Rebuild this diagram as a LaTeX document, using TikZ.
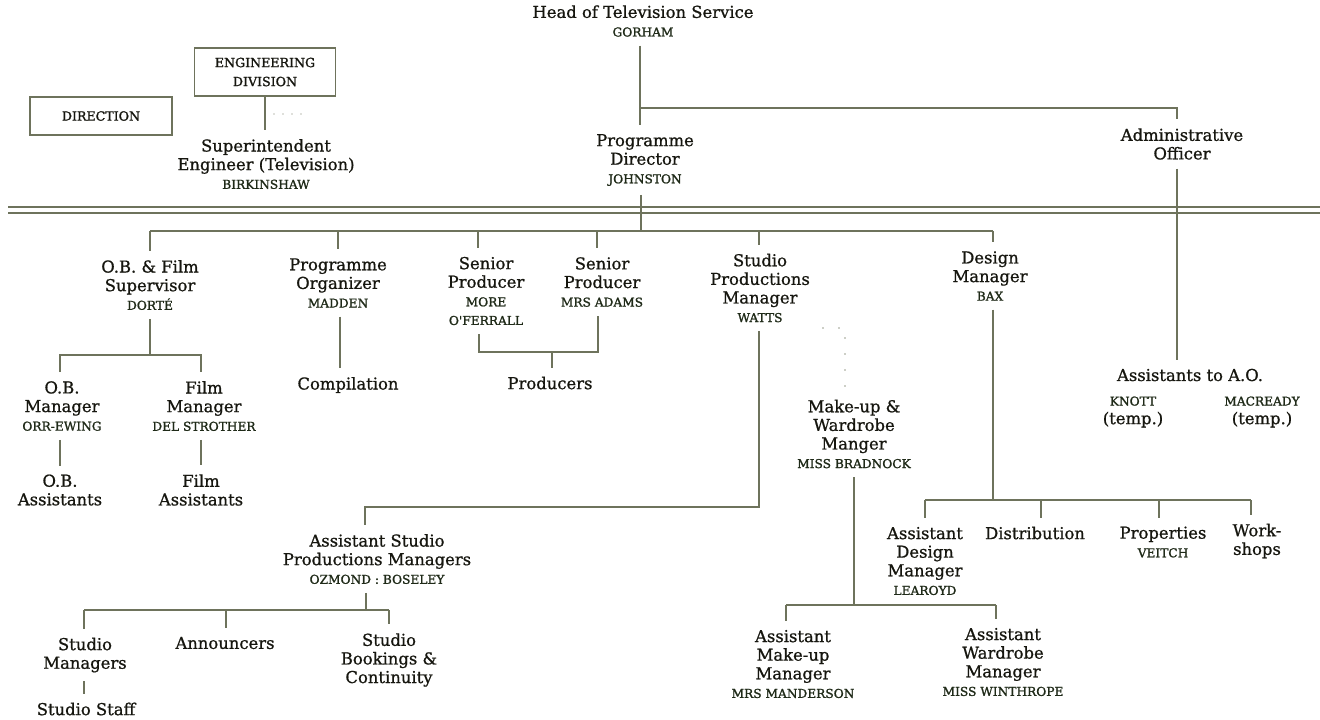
\documentclass[tikz,border=0pt]{standalone}
\usepackage{fontspec}
\setmainfont{DejaVu Serif}[FakeBold=0.9]
\newfontfamily\namefam{DejaVu Serif}[FakeBold=1.4]
\definecolor{ink}{HTML}{16160F}
\definecolor{namegreen}{HTML}{1F2A18}
\definecolor{rulegrey}{HTML}{6E735C}
\newcommand\mainf{\fontsize{8.2}{9.3}\selectfont}
\newcommand\nm{\namefam\fontsize{6.1}{9.3}\selectfont\color{namegreen}}
\newcommand\boxf{\namefam\fontsize{6.3}{9.5}\selectfont}
\tikzset{
  post/.style={align=center, font=\mainf, text=ink, inner sep=1pt, outer sep=3.5pt},
  unit/.style={draw=rulegrey, line width=0.8pt, align=center, font=\boxf, text=ink, inner sep=0pt},
  link/.style={draw=rulegrey, line width=0.85pt},
  dots/.style={draw=rulegrey!70, line width=0.9pt, line cap=round, dash pattern=on 0pt off 8pt}
}
\begin{document}
\begin{tikzpicture}[x=0.5pt,y=-0.5pt]
    \useasboundingbox (0,0) rectangle (1320,719);

    \node[post] (head) at (643,21) {Head of Television Service\\\nm GORHAM};
    \node[unit, minimum width=70.5pt, minimum height=24pt] (eng) at (265,72) {ENGINEERING\\DIVISION};
    \node[unit, minimum width=71pt, minimum height=19pt] (dirn) at (101,116) {DIRECTION};
    \node[post] (supt) at (266,164) {Superintendent\\Engineer (Television)\\\nm BIRKINSHAW};
    \node[post] (progdir) at (645,160) {Programme\\Director\\\nm JOHNSTON};
    \node[post] (admin) at (1182,144) {Administrative\\Officer};

    \node[post] (obsup) at (150,285) {O.B. \& Film\\Supervisor\\\nm DORTÉ};
    \node[post] (progorg) at (338,283) {Programme\\Organizer\\\nm MADDEN};
    \node[post] (senprodA) at (486,291) {Senior\\Producer\\\nm MORE\\\nm O'FERRALL};
    \node[post] (senprodB) at (602,282) {Senior\\Producer\\\nm MRS ADAMS};
    \node[post] (spm) at (760,288) {Studio\\Productions\\Manager\\\nm WATTS};
    \node[post] (design) at (990,276) {Design\\Manager\\\nm BAX};

    \node[post] (obmgr) at (62,406) {O.B.\\Manager\\\nm ORR-EWING};
    \node[post] (filmmgr) at (204,406) {Film\\Manager\\\nm DEL STROTHER};
    \node[post] (obasst) at (60,490) {O.B.\\Assistants};
    \node[post] (filmasst) at (201,490) {Film\\Assistants};
    \node[post] (compil) at (348,385) {Compilation};
    \node[post] (producers) at (550,383) {Producers};
    \node[post] (makeup) at (854,434) {Make-up \&\\Wardrobe\\Manger\\\nm MISS BRADNOCK};
    \node[post] (asstao) at (1190,375) {Assistants to A.O.};
    \node[post] (knott) at (1133,412) {\nm KNOTT\\\rmfamily\mainf\color{ink}(temp.)};
    \node[post] (macready) at (1262,412) {\nm MACREADY\\\rmfamily\mainf\color{ink}(temp.)};

    \node[post] (aspm) at (377,559) {Assistant Studio\\Productions Managers\\\nm OZMOND : BOSELEY};
    \node[post] (studmgr) at (85,655) {Studio\\Managers};
    \node[post] (studstaff) at (86,709) {Studio Staff};
    \node[post] (announcers) at (225,643) {Announcers};
    \node[post] (bookings) at (389,660) {Studio\\Bookings \&\\Continuity};

    \node[post] (asstdesign) at (925,561) {Assistant\\Design\\Manager\\\nm LEAROYD};
    \node[post] (distrib) at (1035,533) {Distribution};
    \node[post] (props) at (1163,542) {Properties\\\nm VEITCH};
    \node[post] (workshops) at (1257,541) {Work-\\shops};
    \node[post] (asstmakeup) at (793,664) {Assistant\\Make-up\\Manager\\\nm MRS MANDERSON};
    \node[post] (asstwardrobe) at (1003,662) {Assistant\\Wardrobe\\Manager\\\nm MISS WINTHROPE};

    \coordinate (rulel) at (8,210);
    \coordinate (ruler) at (1320,210);
    \draw[link, double=white, double distance=2pt] (rulel) -- (ruler);

    \coordinate (hj) at (640,108);
    \coordinate (aj) at (1177,108);
    \draw[link] (hj |- head.south) -- (hj |- progdir.north);
    \draw[link] (hj) -- (aj) -- (aj |- admin.north);
    \draw[link] (aj |- admin.south) -- (aj |- asstao.north);

    \coordinate (ej) at (265,96);
    \draw[link] (eng.south) -- (ej |- supt.north);
    \coordinate (edotA) at (274,114);
    \coordinate (edotB) at (302,114);
    \draw[dots, dash pattern=on 0pt off 4.5pt, draw=rulegrey!45] (edotA) -- (edotB);

    \coordinate (pj) at (641,231);
    \coordinate (bA) at (150,231);
    \coordinate (bB) at (338,231);
    \coordinate (bC) at (478,231);
    \coordinate (bD) at (597,231);
    \coordinate (bE) at (759,231);
    \coordinate (bF) at (993,231);
    \draw[link] (pj |- progdir.south) -- (pj);
    \draw[link] (bA) -- (bF);
    \draw[link] (bA) -- (bA |- obsup.north);
    \draw[link] (bB) -- (bB |- progorg.north);
    \draw[link] (bC) -- (bC |- senprodA.north);
    \draw[link] (bD) -- (bD |- senprodB.north);
    \draw[link] (bE) -- (bE |- spm.north);
    \draw[link] (bF) -- (bF |- design.north);

    \coordinate (oj) at (150,355);
    \coordinate (oa) at (60,355);
    \coordinate (ob) at (201,355);
    \draw[link] (oj |- obsup.south) -- (oj);
    \draw[link] (oa |- obmgr.north) -- (oa) -- (ob) -- (ob |- filmmgr.north);
    \draw[link] (oa |- obmgr.south) -- (oa |- obasst.north);
    \draw[link] (ob |- filmmgr.south) -- (ob |- filmasst.north);

    \coordinate (cj) at (340,317);
    \draw[link] (cj |- progorg.south) -- (cj |- compil.north);

    \coordinate (pa) at (479,352);
    \coordinate (pb) at (598,352);
    \coordinate (pc) at (552,352);
    \draw[link] (pa |- senprodA.south) -- (pa) -- (pb) -- (pb |- senprodB.south);
    \draw[link] (pc) -- (pc |- producers.north);

    \coordinate (sj) at (759,507);
    \coordinate (sa) at (365,507);
    \draw[link] (sj |- spm.south) -- (sj) -- (sa) -- (sa |- aspm.north);

    \coordinate (mdotA) at (823,328);
    \coordinate (mdotB) at (845,328);
    \draw[dots] (mdotA) -- (mdotB) -- (mdotB |- makeup.north);

    \coordinate (aj2) at (366,610);
    \coordinate (sma) at (84,610);
    \coordinate (smb) at (226,610);
    \coordinate (smc) at (389,610);
    \draw[link] (aj2 |- aspm.south) -- (aj2);
    \draw[link] (sma) -- (smc);
    \draw[link] (sma) -- (sma |- studmgr.north);
    \draw[link] (smb) -- (smb |- announcers.north);
    \draw[link] (smc) -- (smc |- bookings.north);
    \draw[link] (sma |- studmgr.south) -- (sma |- studstaff.north);

    \coordinate (dj) at (993,500);
    \coordinate (da) at (925,500);
    \coordinate (db) at (1041,500);
    \coordinate (dc) at (1159,500);
    \coordinate (dd) at (1251,500);
    \draw[link] (dj |- design.south) -- (dj);
    \draw[link] (da) -- (dd);
    \draw[link] (da) -- (da |- asstdesign.north);
    \draw[link] (db) -- (db |- distrib.north);
    \draw[link] (dc) -- (dc |- props.north);
    \draw[link] (dd) -- (dd |- workshops.north);

    \coordinate (mj) at (854,605);
    \coordinate (ma) at (786,605);
    \coordinate (mb) at (996,605);
    \draw[link] (mj |- makeup.south) -- (mj);
    \draw[link] (ma) -- (mb);
    \draw[link] (ma) -- (ma |- asstmakeup.north);
    \draw[link] (mb) -- (mb |- asstwardrobe.north);

\end{tikzpicture}
\end{document}
